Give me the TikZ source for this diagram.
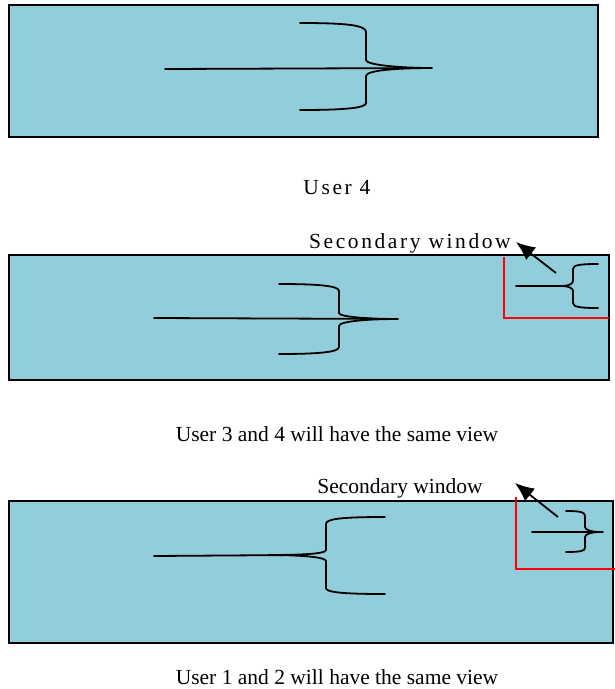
\documentclass[tikz,border=0pt]{standalone}
\usepackage{fontspec}
\setmainfont{Liberation Serif}
\usetikzlibrary{arrows.meta}
\definecolor{panelblue}{RGB}{146,205,220}
\tikzset{
  panel/.style={draw=black, fill=panelblue, line width=1.6pt, inner sep=0pt},
  strand/.style={line width=1.8pt, line cap=round},
  winedge/.style={draw=red, line width=1.4pt},
  pointer/.style={line width=1.8pt, arrows={-Latex[length=19pt,width=16pt]}},
  caption/.style={font=\fontsize{21.5}{24}\selectfont, inner sep=0pt},
  spaced/.style={font=\fontsize{21.5}{24}\selectfont\addfontfeatures{LetterSpace=12}, inner sep=0pt}
}
\begin{document}
\begin{tikzpicture}[x=1pt, y=-1pt]
\useasboundingbox (0,0) rectangle (615,689);

% ---- top view ----
\node[panel, minimum width=589pt, minimum height=132pt] (p1) at (303.5,71) {};
\coordinate (l1a) at (165,69);
\coordinate (l1b) at (432,68);
\draw[strand] (l1a) -- (l1b);
\draw[strand] (300,23) .. controls (345,23) and (366,25) .. (366,32) -- (366,60)
  .. controls (366,65) and (400,68) .. (l1b)
  .. controls (400,68) and (366,70) .. (366,76) -- (366,103)
  .. controls (366,108) and (345,110) .. (300,110);
\node[spaced] (u4) at (337,188) {User 4};

% ---- middle view ----
\node[panel, minimum width=600pt, minimum height=125pt] (p2) at (309,317.5) {};
\coordinate (l2a) at (154,318);
\coordinate (l2b) at (398,319);
\draw[strand] (l2a) -- (l2b);
\draw[strand] (279,284) .. controls (320,284) and (339,286) .. (339,291) -- (339,313)
  .. controls (339,317) and (370,319) .. (l2b)
  .. controls (370,319) and (339,321) .. (339,326) -- (339,347)
  .. controls (339,352) and (320,354) .. (279,354);
% secondary window
\coordinate (w2a) at (504,257);
\coordinate (w2b) at (504,318);
\coordinate (w2c) at (609,318);
\draw[winedge] (w2a) -- (w2b) -- (w2c);
\coordinate (s2a) at (516,286);
\coordinate (s2b) at (562,286);
\draw[strand] (s2a) -- (s2b);
\draw[strand] (598,264) .. controls (580,264) and (573,265) .. (573,269) -- (573,281)
  .. controls (573,284) and (568,286) .. (s2b)
  .. controls (568,286) and (573,288) .. (573,291) -- (573,303)
  .. controls (573,307) and (580,308) .. (598,308);
\node[spaced, anchor=west] (sw2) at (309,243) {Secondary window};
\coordinate (a2s) at (556,273);
\coordinate (a2t) at (516,242);
\draw[pointer] (a2s) -- (a2t);
\node[caption] (c2) at (337,434) {User 3 and 4 will have the same view};

% ---- bottom view ----
\node[panel, minimum width=604pt, minimum height=142pt] (p3) at (311,572) {};
\coordinate (l3a) at (154,556);
\coordinate (l3b) at (295,555);
\draw[strand] (l3a) -- (l3b);
\coordinate (b3t) at (268,555);
\draw[strand] (385,517) .. controls (340,517) and (326,519) .. (326,524) -- (326,550)
  .. controls (326,554) and (300,555) .. (b3t)
  .. controls (300,555) and (326,557) .. (326,561) -- (326,588)
  .. controls (326,592) and (340,594) .. (385,594);
% secondary window
\coordinate (w3a) at (516,497);
\coordinate (w3b) at (516,569);
\coordinate (w3c) at (615,569);
\draw[winedge] (w3a) -- (w3b) -- (w3c);
\coordinate (s3a) at (532,532);
\coordinate (s3b) at (603,532);
\draw[strand] (s3a) -- (s3b);
\draw[strand] (566,511) .. controls (580,511) and (585,512) .. (585,516) -- (585,527)
  .. controls (585,530) and (592,532) .. (600,532)
  .. controls (592,532) and (585,534) .. (585,537) -- (585,548)
  .. controls (585,551) and (580,552) .. (566,552);
\node[caption] (sw3) at (400,488) {Secondary window};
\coordinate (a3s) at (558,517);
\coordinate (a3t) at (515,483);
\draw[pointer] (a3s) -- (a3t);
\node[caption] (c3) at (337,677) {User 1 and 2 will have the same view};
\end{tikzpicture}
\end{document}
